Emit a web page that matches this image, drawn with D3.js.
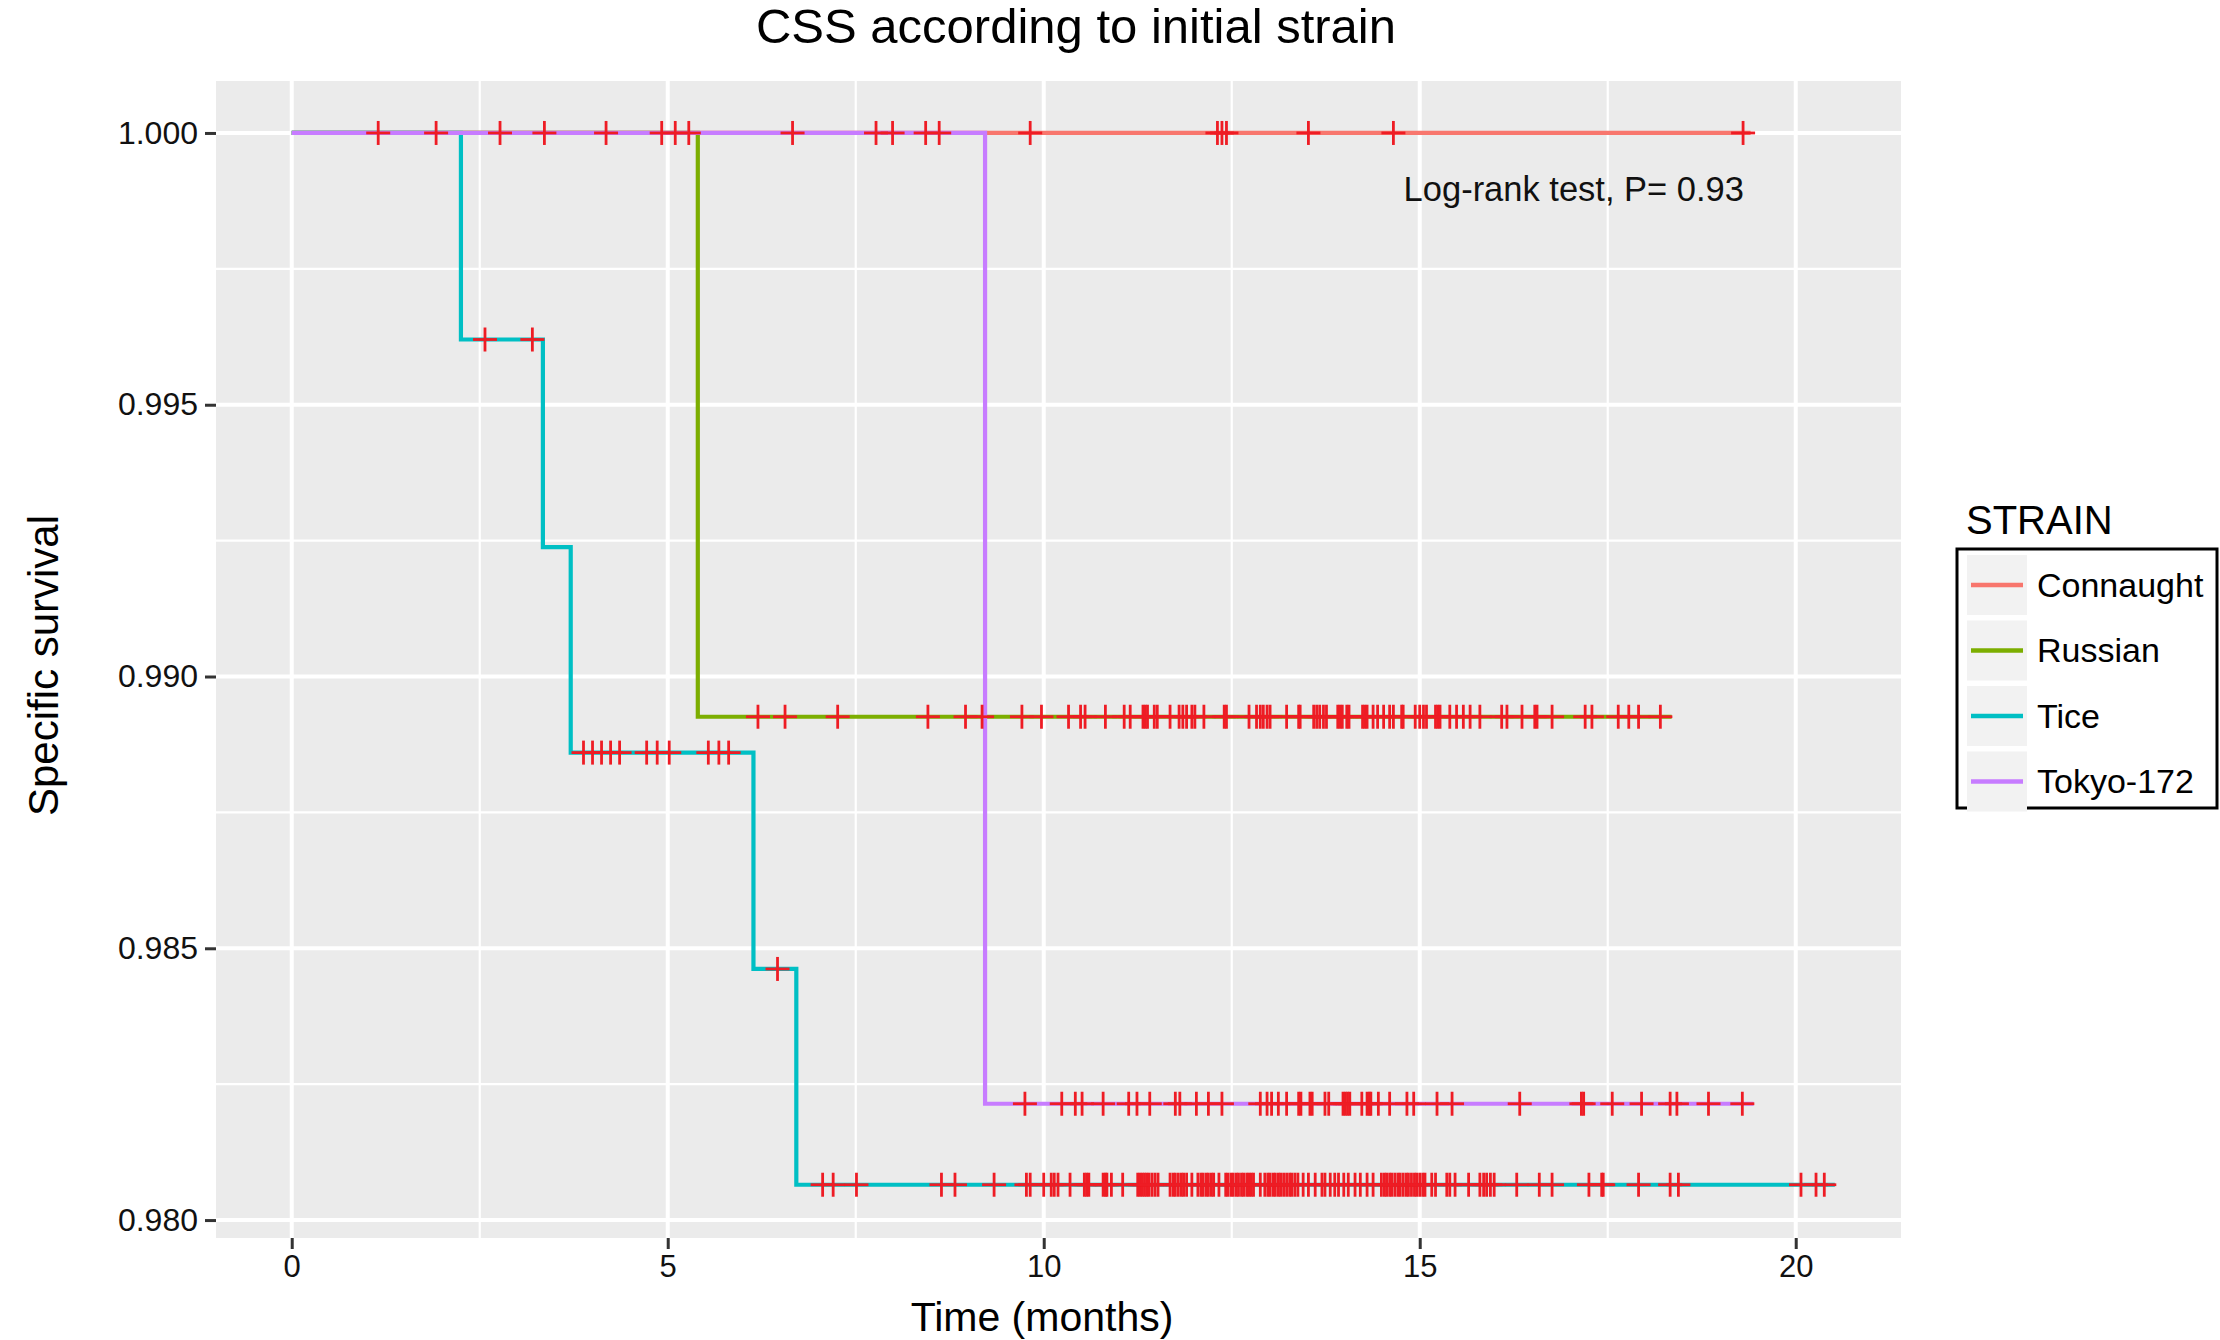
<!DOCTYPE html>
<html>
<head>
<meta charset="utf-8">
<script src="https://cdn.jsdelivr.net/npm/d3@7"></script>
<style>
  body { margin: 0; background: #fff; }
  text { font-family: "Liberation Sans", Arial, Helvetica, sans-serif; }
</style>
</head>
<body>
<svg id="chart"></svg>
<script>
// strains and colours (ggplot default hue palette)
var strains = ["Connaught", "Russian", "Tice", "Tokyo-172"];
var strainColors = ["#F8766D", "#7CAE00", "#00BFC4", "#C77CFF"];

// Kaplan-Meier step times / survival
var connaughtTimes = [0];
var connaughtSurv = [1.0];
var connaughtEnd = 19.40;

var russianTimes = [0, 5.40];
var russianSurv = [1.0, 0.98926];
var russianEnd = 18.35;

var ticeTimes = [0, 2.25, 3.34, 3.71, 6.14, 6.71];
var ticeSurv = [1.0, 0.99620, 0.99238, 0.98860, 0.98462, 0.98065];
var ticeEnd = 20.52;

var tokyoTimes = [0, 9.22];
var tokyoSurv = [1.0, 0.98214];
var tokyoEnd = 19.44;

// censoring marks (months)
var connaughtCensor = [1.15, 1.92, 2.77, 3.36, 4.18, 4.92, 5.10, 5.28, 6.66, 7.77, 7.99,
  8.43, 8.61, 9.82, 12.31, 12.37, 12.43, 13.52, 14.65, 19.30];

var russianCensor = [6.20, 6.56, 7.26, 8.46, 8.96, 9.18, 9.71, 9.97, 10.33, 10.49, 10.55,
  10.82, 11.07, 11.15, 11.32, 11.35, 11.38, 11.47, 11.51, 11.68, 11.80, 11.85, 11.90,
  11.97, 12.01, 12.13, 12.40, 12.43, 12.73, 12.83, 12.88, 12.92, 12.97, 13.01, 13.23,
  13.39, 13.41, 13.59, 13.63, 13.67, 13.72, 13.76, 13.91, 13.94, 13.97, 14.03, 14.06,
  14.24, 14.27, 14.30, 14.38, 14.44, 14.52, 14.60, 14.65, 14.76, 14.78, 14.94, 15.00,
  15.05, 15.09, 15.21, 15.24, 15.27, 15.40, 15.49, 15.58, 15.67, 15.80, 16.09, 16.16,
  16.36, 16.53, 16.56, 16.76, 17.20, 17.29, 17.64, 17.78, 17.91, 18.20];

var ticeCensor = [2.57, 3.20,
  3.88, 4.00, 4.12, 4.24, 4.36, 4.72, 4.86, 5.02, 5.54, 5.68, 5.81,
  6.46,
  7.06, 7.20, 7.51, 8.64, 8.82, 9.34, 9.77, 9.82, 10.00, 10.10, 10.14, 10.19, 10.35,
  10.54, 10.57, 10.60, 10.79, 10.82, 10.84, 10.90, 11.05, 11.25, 11.28, 11.31, 11.34,
  11.37, 11.40, 11.44, 11.48, 11.52, 11.68, 11.72, 11.75, 11.79, 11.83, 11.86, 11.90,
  11.97, 12.05, 12.09, 12.12, 12.16, 12.19, 12.23, 12.26, 12.33, 12.42, 12.45, 12.49,
  12.52, 12.56, 12.59, 12.63, 12.66, 12.70, 12.73, 12.76, 12.79, 12.88, 12.94, 12.98,
  13.01, 13.05, 13.08, 13.12, 13.15, 13.19, 13.23, 13.27, 13.30, 13.34, 13.38, 13.45,
  13.52, 13.61, 13.70, 13.74, 13.81, 13.87, 13.92, 13.99, 14.05, 14.14, 14.21, 14.30,
  14.38, 14.49, 14.53, 14.56, 14.60, 14.63, 14.67, 14.71, 14.74, 14.78, 14.82, 14.85,
  14.89, 14.93, 14.96, 15.00, 15.04, 15.07, 15.16, 15.21, 15.36, 15.40, 15.47, 15.65,
  15.80, 15.85, 15.89, 15.94, 15.99, 16.29, 16.59, 16.76, 17.25, 17.42, 17.44, 17.91,
  18.33, 18.44, 20.07, 20.27, 20.38];

var tokyoCensor = [9.75, 10.24, 10.42, 10.51, 10.79, 11.13, 11.24, 11.41, 11.75, 11.81,
  12.03, 12.19, 12.37, 12.88, 12.97, 13.03, 13.12, 13.23, 13.39, 13.42, 13.54, 13.57,
  13.74, 13.79, 13.98, 14.01, 14.04, 14.07, 14.23, 14.30, 14.33, 14.35, 14.45, 14.60,
  14.83, 14.92, 15.23, 15.43, 16.33, 17.15, 17.18, 17.56, 17.95, 18.33, 18.42, 18.84, 19.29];

// axis ticks
var xTicks = [0, 5, 10, 15, 20];
var xMinor = [2.5, 7.5, 12.5, 17.5];
var yTicks = [0.980, 0.985, 0.990, 0.995, 1.000];
var yMinor = [0.9825, 0.9875, 0.9925, 0.9975];

var titleText = "CSS according to initial strain";
var xLabel = "Time (months)";
var yLabel = "Specific survival";
var pText = "Log-rank test, P= 0.93";
var legendTitle = "STRAIN";

document.addEventListener("DOMContentLoaded", function () {
    var W = 2220, H = 1340;
    var panel = { left: 216, top: 81, right: 1901, bottom: 1238 };

    var svg = d3.select("#chart").attr("width", W).attr("height", H);

    var x = d3.scaleLinear().domain([-1.007, 21.40]).range([panel.left, panel.right]);
    var y = d3.scaleLinear().domain([0.97967, 1.000956]).range([panel.bottom, panel.top]);

    // panel background
    svg.append("rect")
        .attr("x", panel.left).attr("y", panel.top)
        .attr("width", panel.right - panel.left).attr("height", panel.bottom - panel.top)
        .attr("fill", "#EBEBEB");

    // grid
    var grid = svg.append("g");
    grid.selectAll(".xminor").data(xMinor).enter().append("line")
        .attr("x1", function (d) { return x(d); }).attr("x2", function (d) { return x(d); })
        .attr("y1", panel.top).attr("y2", panel.bottom)
        .attr("stroke", "#fff").attr("stroke-width", 2.2);
    grid.selectAll(".yminor").data(yMinor).enter().append("line")
        .attr("y1", function (d) { return y(d); }).attr("y2", function (d) { return y(d); })
        .attr("x1", panel.left).attr("x2", panel.right)
        .attr("stroke", "#fff").attr("stroke-width", 2.2);
    grid.selectAll(".xmajor").data(xTicks).enter().append("line")
        .attr("x1", function (d) { return x(d); }).attr("x2", function (d) { return x(d); })
        .attr("y1", panel.top).attr("y2", panel.bottom)
        .attr("stroke", "#fff").attr("stroke-width", 4);
    grid.selectAll(".ymajor").data(yTicks).enter().append("line")
        .attr("y1", function (d) { return y(d); }).attr("y2", function (d) { return y(d); })
        .attr("x1", panel.left).attr("x2", panel.right)
        .attr("stroke", "#fff").attr("stroke-width", 4);

    // axes
    var xAxis = d3.axisBottom(x).tickValues(xTicks).tickSize(11).tickPadding(6)
        .tickFormat(d3.format("d"));
    var gx = svg.append("g").attr("transform", "translate(0," + panel.bottom + ")").call(xAxis);
    gx.select(".domain").remove();
    gx.selectAll(".tick line").attr("stroke", "#333").attr("stroke-width", 3);
    gx.selectAll(".tick text").attr("font-size", 31).attr("fill", "#111")
        .attr("font-family", "Liberation Sans, Arial, sans-serif");

    var yAxis = d3.axisLeft(y).tickValues(yTicks).tickSize(11).tickPadding(7)
        .tickFormat(d3.format(".3f"));
    var gy = svg.append("g").attr("transform", "translate(" + panel.left + ",0)").call(yAxis);
    gy.select(".domain").remove();
    gy.selectAll(".tick line").attr("stroke", "#333").attr("stroke-width", 3);
    gy.selectAll(".tick text").attr("font-size", 32).attr("fill", "#111")
        .attr("font-family", "Liberation Sans, Arial, sans-serif");

    // survival curves
    var curves = [
        { times: connaughtTimes, surv: connaughtSurv, end: connaughtEnd, censor: connaughtCensor },
        { times: russianTimes, surv: russianSurv, end: russianEnd, censor: russianCensor },
        { times: ticeTimes, surv: ticeSurv, end: ticeEnd, censor: ticeCensor },
        { times: tokyoTimes, surv: tokyoSurv, end: tokyoEnd, censor: tokyoCensor }
    ];

    var line = d3.line()
        .x(function (d) { return x(d[0]); })
        .y(function (d) { return y(d[1]); })
        .curve(d3.curveStepAfter);

    function survAt(c, t) {
        var s = c.surv[0];
        for (var i = 0; i < c.times.length; i++) if (c.times[i] <= t) s = c.surv[i];
        return s;
    }

    curves.forEach(function (c, i) {
        var pts = c.times.map(function (t, j) { return [t, c.surv[j]]; });
        pts.push([c.end, c.surv[c.surv.length - 1]]);
        svg.append("path")
            .attr("d", line(pts))
            .attr("fill", "none")
            .attr("stroke", strainColors[i])
            .attr("stroke-width", 4.2);
    });

    // censor marks
    var arm = 12;
    curves.forEach(function (c) {
        var g = svg.append("g").attr("stroke", "#EE1C24").attr("stroke-width", 2.8);
        c.censor.forEach(function (t) {
            var cx = x(t), cy = y(survAt(c, t));
            g.append("line").attr("x1", cx - arm).attr("x2", cx + arm).attr("y1", cy).attr("y2", cy);
            g.append("line").attr("x1", cx).attr("x2", cx).attr("y1", cy - arm).attr("y2", cy + arm);
        });
    });

    // p-value annotation
    svg.append("text")
        .attr("x", 1744).attr("y", 201)
        .attr("text-anchor", "end")
        .attr("font-size", 34.5).attr("fill", "#111")
        .text(pText);

    // titles
    svg.append("text")
        .attr("x", 1076).attr("y", 43)
        .attr("text-anchor", "middle")
        .attr("font-size", 49).attr("fill", "#000")
        .text(titleText);

    svg.append("text")
        .attr("x", 1042).attr("y", 1331)
        .attr("text-anchor", "middle")
        .attr("font-size", 41).attr("fill", "#000")
        .text(xLabel);

    svg.append("text")
        .attr("transform", "translate(58," + ((panel.top + panel.bottom) / 2 + 6) + ") rotate(-90)")
        .attr("text-anchor", "middle")
        .attr("font-size", 42).attr("fill", "#000")
        .text(yLabel);

    // legend
    var lg = svg.append("g");
    lg.append("text")
        .attr("x", 1966).attr("y", 534)
        .attr("font-size", 40).attr("fill", "#000")
        .text(legendTitle);
    lg.append("rect")
        .attr("x", 1957).attr("y", 549).attr("width", 260).attr("height", 259)
        .attr("fill", "#fff").attr("stroke", "#000").attr("stroke-width", 3);

    var item = lg.selectAll(".item").data(strains).enter().append("g")
        .attr("transform", function (d, i) { return "translate(1967," + (555 + i * 65.5) + ")"; });
    item.append("rect")
        .attr("width", 60).attr("height", 60).attr("fill", "#F2F2F2");
    item.append("line")
        .attr("x1", 4).attr("x2", 56).attr("y1", 30).attr("y2", 30)
        .attr("stroke", function (d, i) { return strainColors[i]; })
        .attr("stroke-width", 4.5);
    item.append("text")
        .attr("x", 70).attr("y", 30).attr("dy", "0.35em")
        .attr("font-size", 34).attr("fill", "#000")
        .text(function (d) { return d; });
});
</script>
</body>
</html>
